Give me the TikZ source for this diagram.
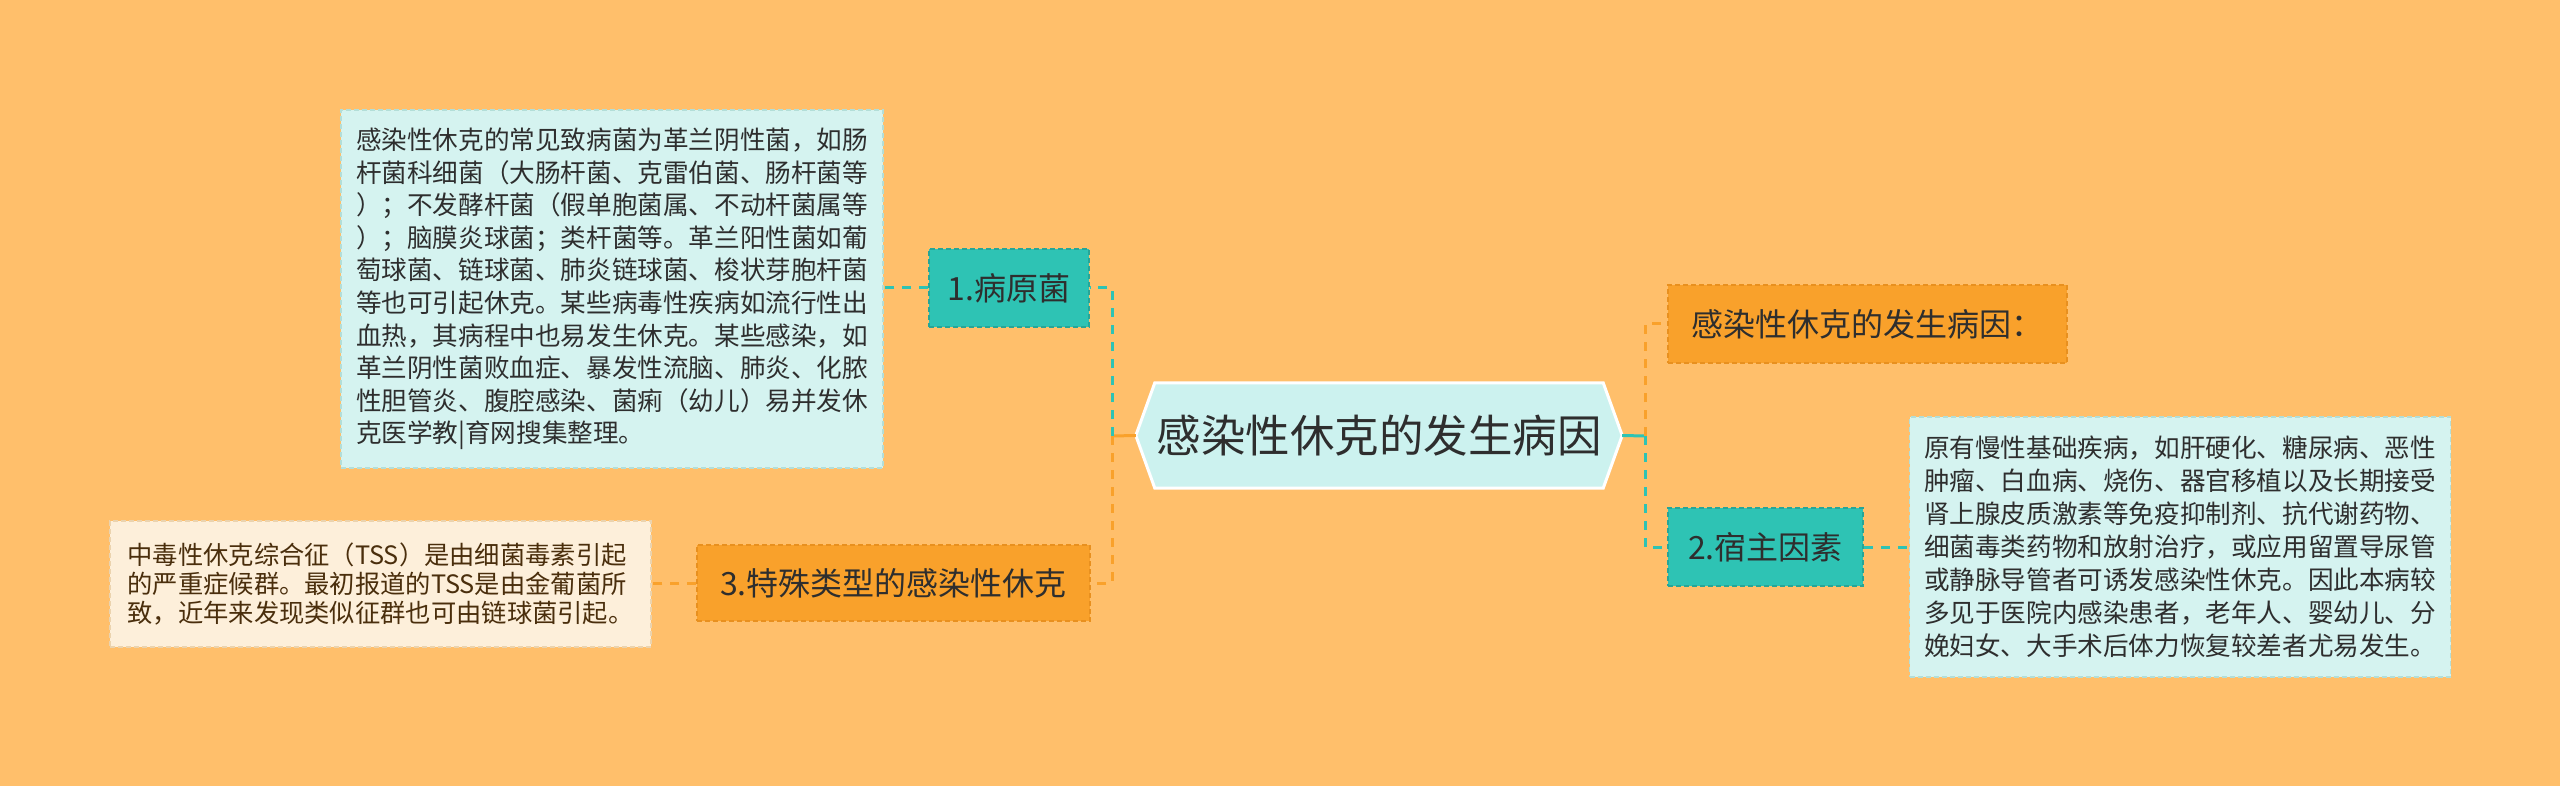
\documentclass[tikz,border=0pt]{standalone}
\usepackage{fontspec}
\newfontfamily\cjk{Noto Sans CJK SC}
\usetikzlibrary{calc,backgrounds}
\definecolor{bgc}{HTML}{FFBF6B}
\definecolor{tealc}{HTML}{2EC3B4}
\definecolor{tealb}{HTML}{27A597}
\definecolor{orc}{HTML}{F9A12B}
\definecolor{orb}{HTML}{E8901F}
\definecolor{cyanc}{HTML}{D5F3F0}
\definecolor{cyanb}{HTML}{B3DED8}
\definecolor{creamc}{HTML}{FDEFDA}
\definecolor{creamb}{HTML}{EBD3AE}
\definecolor{rootc}{HTML}{CCF2EF}
\definecolor{txt}{HTML}{2E2E2E}
\definecolor{txtb}{HTML}{4A2E0C}
\begin{document}
\begin{tikzpicture}[x=1pt,y=-1pt,
  box/.style={draw, dash pattern=on 5pt off 3pt, line width=1.5pt, inner sep=0pt, anchor=center},
  tealnode/.style={box, fill=tealc, draw=tealb, text=txt, font=\cjk\fontsize{32}{38}\selectfont},
  ornode/.style={box, fill=orc, draw=orb, text=txt, font=\cjk\fontsize{32}{38}\selectfont},
  cyanbox/.style={box, fill=cyanc, draw=cyanb, align=left, text=txt},
  creambox/.style={box, fill=creamc, draw=creamb, align=left, text=txtb},
  tline/.style={draw=tealc, line width=3pt, dash pattern=on 9pt off 8pt},
  oline/.style={draw=orc, line width=3pt, dash pattern=on 9pt off 8pt},
  tsolid/.style={draw=tealc, line width=3pt},
  osolid/.style={draw=orc, line width=3pt}]
\useasboundingbox (0,0) rectangle (2560,786);
\begin{scope}[on background layer]
  \fill[bgc] (0,0) rectangle (2560,786);
\end{scope}

% root
\node[inner sep=0pt, minimum width=448pt, minimum height=105pt, text=txt,
  font=\cjk\fontsize{44.5}{50}\selectfont] (root) at (1379,435.5) {感染性休克的发生病因};
\begin{scope}[on background layer]
  \filldraw[fill=rootc, draw=white, line width=3pt]
    (root.north west) -- (root.north east) -- ($(root.east)+(19,0)$) --
    (root.south east) -- (root.south west) -- ($(root.west)+(-19,0)$) -- cycle;
\end{scope}
\coordinate (rootL) at ($(root.west)+(-19,0)$);
\coordinate (rootR) at ($(root.east)+(19,0)$);

% branch nodes
\node[tealnode, minimum width=160pt, minimum height=78pt] (n1) at (1009,288) {1.病原菌};
\node[ornode, minimum width=393pt, minimum height=76pt] (n3) at (893.5,583) {3.特殊类型的感染性休克};
\node[ornode, minimum width=399pt, minimum height=78pt] (r1) at (1867.5,324) {感染性休克的发生病因：};
\node[tealnode, minimum width=195pt, minimum height=78pt] (n2) at (1765.5,547) {2.宿主因素};

% text boxes
\node[cyanbox, minimum width=542pt, minimum height=358pt,
  font=\cjk\fontsize{25.6}{32.6}\selectfont] (t1) at (612,289) {感染性休克的常见致病菌为革兰阴性菌，如肠\\
杆菌科细菌（大肠杆菌、克雷伯菌、肠杆菌等\\
）；不发酵杆菌（假单胞菌属、不动杆菌属等\\
）；脑膜炎球菌；类杆菌等。革兰阳性菌如葡\\
萄球菌、链球菌、肺炎链球菌、梭状芽胞杆菌\\
等也可引起休克。某些病毒性疾病如流行性出\\
血热，其病程中也易发生休克。某些感染，如\\
革兰阴性菌败血症、暴发性流脑、肺炎、化脓\\
性胆管炎、腹腔感染、菌痢（幼儿）易并发休\\
克医学教|育网搜集整理。};

\node[creambox, minimum width=541pt, minimum height=126pt,
  font=\cjk\fontsize{25.3}{29}\selectfont] (t3) at (380.5,584) {中毒性休克综合征（TSS）是由细菌毒素引起\\
的严重症候群。最初报道的TSS是由金葡菌所\\
致，近年来发现类似征群也可由链球菌引起。};

\node[cyanbox, minimum width=541pt, minimum height=260pt,
  font=\cjk\fontsize{25.6}{33}\selectfont] (t2) at (2180,547) {原有慢性基础疾病，如肝硬化、糖尿病、恶性\\
肿瘤、白血病、烧伤、器官移植以及长期接受\\
肾上腺皮质激素等免疫抑制剂、抗代谢药物、\\
细菌毒类药物和放射治疗，或应用留置导尿管\\
或静脉导管者可诱发感染性休克。因此本病较\\
多见于医院内感染患者，老年人、婴幼儿、分\\
娩妇女、大手术后体力恢复较差者尤易发生。};

% connectors
\coordinate (jl) at (1112,436);
\coordinate (jr) at (1645,436);
\draw[osolid] (rootL) -- (jl);
\draw[tline] (jl) |- (n1.east);
\draw[oline] (jl) |- (n3.east);
\draw[tsolid] (rootR) -- (jr);
\draw[oline] (jr) |- (r1.west);
\draw[tline] (jr) |- (n2.west);
\draw[tline] (n1.west) -- (n1.west -| t1.east);
\draw[oline] (n3.west) -- (n3.west -| t3.east);
\draw[tline] (n2.east) -- (n2.east -| t2.west);
\end{tikzpicture}
\end{document}
